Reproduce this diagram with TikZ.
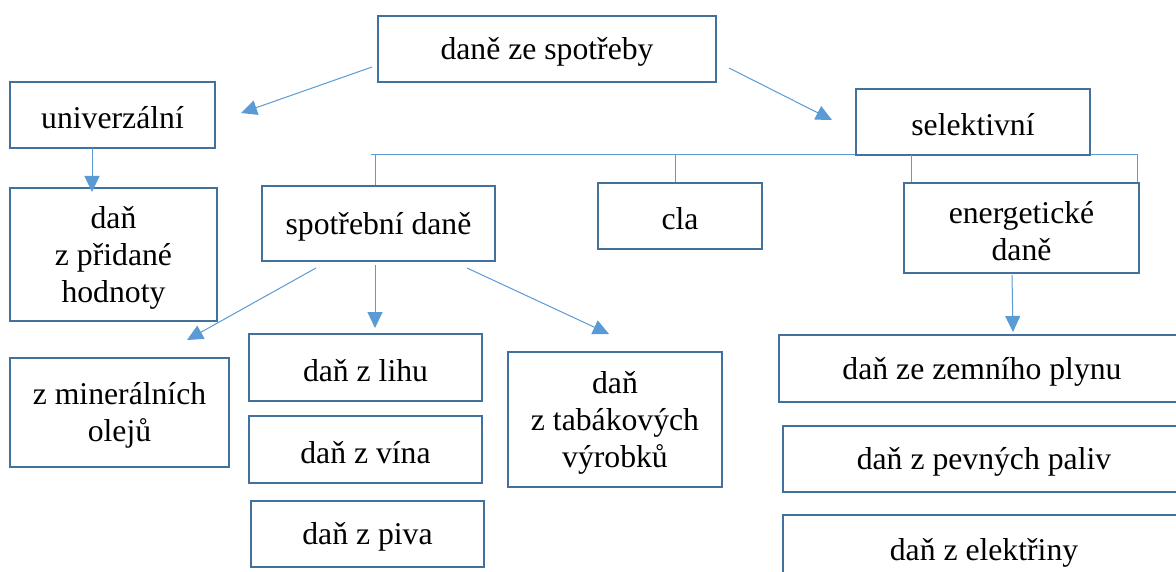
\documentclass[tikz,border=0pt]{standalone}
\usepackage{fontspec}
\setmainfont{Liberation Serif}
\usetikzlibrary{arrows.meta}
\definecolor{boxblue}{HTML}{41719C}
\definecolor{lineblue}{HTML}{5B9BD5}
\begin{document}
\begin{tikzpicture}[x=1pt,y=-1pt,
  box/.style={draw=boxblue, line width=2.4pt, inner sep=0pt},
  txt/.style={font=\fontsize{31.7}{37}\selectfont, align=center, inner sep=0pt, yshift=-3pt},
  arr/.style={draw=lineblue, line width=1pt, -{Triangle[length=16pt,width=15pt]}},
  brk/.style={draw=lineblue, line width=1pt}]
\useasboundingbox (0,0) rectangle (1176,572);
\clip (0,0) rectangle (1176,572);
\fill[white] (0,0) rectangle (1176,572);
% bracket under "selektivni"
\coordinate (bL) at (371,155);
\coordinate (bR) at (1138,155);
\draw[brk] (bL) -- (bR);
% boxes
\node[box, minimum width=338, minimum height=66, label={[txt]center:daně ze spotřeby}] (top) at (547,49) {};
\node[box, minimum width=205, minimum height=66, label={[txt]center:univerzální}] (univ) at (112.5,115) {};
\node[box, minimum width=234, minimum height=66, label={[txt]center:selektivní}] (sel) at (973,122) {};
\node[box, minimum width=207, minimum height=133, label={[txt]center:daň\\z přidané\\hodnoty}] (dph) at (113.5,254.5) {};
\node[box, minimum width=233, minimum height=75, label={[txt]center:spotřební daně}] (spot) at (378.5,223.5) {};
\node[box, minimum width=164, minimum height=66, label={[txt]center:cla}] (cla) at (680,216) {};
\node[box, minimum width=235, minimum height=90, label={[txt]center:energetické\\daně}] (ener) at (1021.5,228) {};
\node[box, minimum width=219, minimum height=109, label={[txt]center:z minerálních\\olejů}] (miner) at (119.5,412.5) {};
\node[box, minimum width=233, minimum height=67, label={[txt]center:daň z lihu}] (lihu) at (365.5,367.5) {};
\node[box, minimum width=233, minimum height=67, label={[txt]center:daň z vína}] (vina) at (365.5,449.5) {};
\node[box, minimum width=233, minimum height=66, label={[txt]center:daň z piva}] (piva) at (367.5,534) {};
\node[box, minimum width=214, minimum height=135, label={[txt]center:daň\\z tabákových\\výrobků}] (tabak) at (615,419.5) {};
\node[box, minimum width=406, minimum height=67, label={[txt]center:daň ze zemního plynu}] (plyn) at (982,368.5) {};
\node[box, minimum width=402, minimum height=66, label={[txt]center:daň z pevných paliv}] (paliv) at (984,459) {};
\node[box, minimum width=402, minimum height=70, label={[txt]center:daň z elektřiny}] (elek) at (984,550) {};
% bracket ticks down to the child boxes
\draw[brk] (375,155) -- (spot.north -| 375,0);
\draw[brk] (675,155) -- (cla.north -| 675,0);
\draw[brk] (911,155) -- (ener.north -| 911,0);
\draw[brk] (1137,155) -- (ener.north -| 1137,0);
% arrow end points
\coordinate (a1s) at (372,67);   \coordinate (a1e) at (241,113);
\coordinate (a2s) at (729,68);   \coordinate (a2e) at (832,120);
\coordinate (a3s) at (92,148);   \coordinate (a3e) at (92,192);
\coordinate (a4s) at (316,268);  \coordinate (a4e) at (187,340);
\coordinate (a5s) at (375,265);  \coordinate (a5e) at (375,328);
\coordinate (a6s) at (467,268);  \coordinate (a6e) at (609,334);
\coordinate (a7s) at (1012,275); \coordinate (a7e) at (1013,332);
\draw[arr] (a1s) -- (a1e);
\draw[arr] (a2s) -- (a2e);
\draw[arr] (a3s) -- (a3e);
\draw[arr] (a4s) -- (a4e);
\draw[arr] (a5s) -- (a5e);
\draw[arr] (a6s) -- (a6e);
\draw[arr] (a7s) -- (a7e);
\end{tikzpicture}
\end{document}
